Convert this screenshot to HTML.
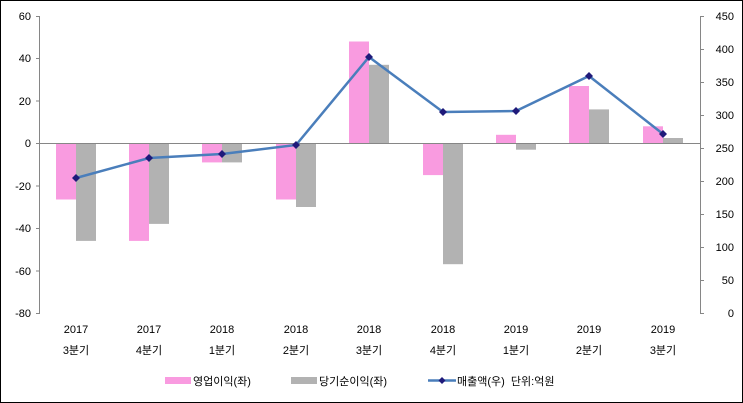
<!DOCTYPE html>
<html><head><meta charset="utf-8"><style>
body{margin:0;background:#fff}
svg{display:block}
text{font-family:"Liberation Sans","Noto Sans CJK KR",sans-serif;font-size:11px;fill:#000}
</style></head><body>
<svg width="743" height="403" viewBox="0 0 743 403">
<rect x="0.5" y="0.5" width="742" height="402" fill="#fff" stroke="#000"/>
<g fill="#f99be0">
<rect x="56" y="143.3" width="20" height="56.2"/>
<rect x="129" y="143.3" width="20" height="97.6"/>
<rect x="202" y="143.3" width="20" height="19.1"/>
<rect x="276" y="143.3" width="20" height="56.2"/>
<rect x="349" y="41.5" width="20" height="101.8"/>
<rect x="423" y="143.3" width="20" height="31.8"/>
<rect x="496" y="134.8" width="20" height="8.5"/>
<rect x="569" y="86" width="20" height="57.3"/>
<rect x="643" y="126.3" width="20" height="17"/>
</g>
<g fill="#b2b2b2">
<rect x="76" y="143.3" width="20" height="97.6"/>
<rect x="149" y="143.3" width="20" height="80.6"/>
<rect x="222" y="143.3" width="20" height="19.1"/>
<rect x="296" y="143.3" width="20" height="63.7"/>
<rect x="369" y="64.8" width="20" height="78.5"/>
<rect x="443" y="143.3" width="20" height="120.9"/>
<rect x="516" y="143.3" width="20" height="6.4"/>
<rect x="589" y="109.4" width="20" height="33.9"/>
<rect x="663" y="138" width="20" height="5.3"/>
</g>
<g stroke="#868686" fill="none">
<line x1="39.5" y1="16" x2="39.5" y2="313"/>
<line x1="700.5" y1="16" x2="700.5" y2="313"/>
<line x1="39.5" y1="143.5" x2="700.5" y2="143.5"/>
<path d="M36 16.5h4M36 58.5h4M36 101h4M36 143.5h4M36 186h4M36 228.5h4M36 271h4M36 313.5h4"/>
<path d="M700 16.5h4M700 49.5h4M700 82.5h4M700 115.5h4M700 148.5h4M700 181.5h4M700 214.5h4M700 247.5h4M700 280.5h4M700 313.5h4"/>
</g>
<g text-anchor="end">
<text x="31" y="20">60</text><text x="31" y="62">40</text><text x="31" y="105">20</text><text x="31" y="147">0</text>
<text x="31" y="190">-20</text><text x="31" y="232">-40</text><text x="31" y="275">-60</text><text x="31" y="317">-80</text>
</g>
<g text-anchor="end">
<text x="734" y="20">450</text><text x="734" y="53">400</text><text x="734" y="86">350</text><text x="734" y="119">300</text><text x="734" y="152">250</text>
<text x="734" y="185">200</text><text x="734" y="218">150</text><text x="734" y="251">100</text><text x="734" y="284">50</text><text x="734" y="317">0</text>
</g>
<g text-anchor="middle">
<text x="76" y="333">2017</text><text x="76" y="354">3분기</text>
<text x="149" y="333">2017</text><text x="149" y="354">4분기</text>
<text x="222" y="333">2018</text><text x="222" y="354">1분기</text>
<text x="296" y="333">2018</text><text x="296" y="354">2분기</text>
<text x="369" y="333">2018</text><text x="369" y="354">3분기</text>
<text x="443" y="333">2018</text><text x="443" y="354">4분기</text>
<text x="516" y="333">2019</text><text x="516" y="354">1분기</text>
<text x="589" y="333">2019</text><text x="589" y="354">2분기</text>
<text x="663" y="333">2019</text><text x="663" y="354">3분기</text>
</g>
<polyline points="76,178 149,158 222,154 296,145 369,57 443,112 516,111 589,76 663,134" fill="none" stroke="#4a7ebb" stroke-width="2.5"/>
<g fill="#1f1a7a">
<path d="M76 174l4 4-4 4-4-4z"/><path d="M149 154l4 4-4 4-4-4z"/><path d="M222 150l4 4-4 4-4-4z"/>
<path d="M296 141l4 4-4 4-4-4z"/><path d="M369 53l4 4-4 4-4-4z"/><path d="M443 108l4 4-4 4-4-4z"/>
<path d="M516 107l4 4-4 4-4-4z"/><path d="M589 72l4 4-4 4-4-4z"/><path d="M663 130l4 4-4 4-4-4z"/>
</g>
<rect x="165" y="377" width="26" height="7" fill="#f99be0"/>
<text x="193" y="385">영업이익(좌)</text>
<rect x="291" y="377" width="26" height="7" fill="#b2b2b2"/>
<text x="319" y="385">당기순이익(좌)</text>
<line x1="428" y1="380.5" x2="456" y2="380.5" stroke="#4a7ebb" stroke-width="2.5"/>
<path d="M442 377l3.5 3.5-3.5 3.5-3.5-3.5z" fill="#1f1a7a"/>
<text x="457" y="385">매출액(우)&#160;&#160;단위:억원</text>
</svg>
</body></html>
